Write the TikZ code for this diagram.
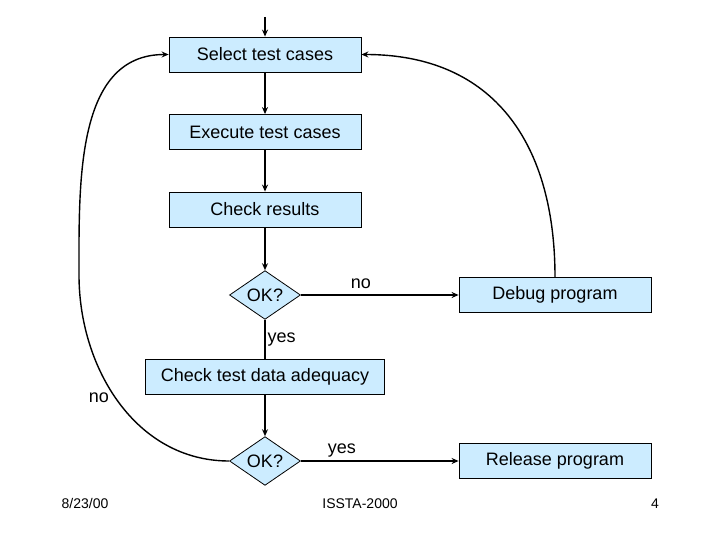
\documentclass[tikz,border=0pt]{standalone}
\usepackage{fontspec}
\setmainfont{Liberation Sans}
\usetikzlibrary{shapes.geometric,arrows.meta}
\definecolor{boxblue}{RGB}{204,236,255}
\newcommand{\bigtxt}{\fontsize{18}{22}\selectfont}
\newcommand{\smalltxt}{\fontsize{14}{17}\selectfont}
\begin{document}
\begin{tikzpicture}[
  x=1pt, y=-1pt,
  block/.style={rectangle, draw, fill=boxblue, line width=0.8pt, minimum width=192pt, minimum height=35pt, inner sep=0pt, font=\bigtxt},
  test/.style={diamond, draw, fill=boxblue, line width=0.8pt, minimum width=71pt, minimum height=47pt, inner sep=0pt, font=\bigtxt},
  flow/.style={line width=1.4pt, -{Stealth[length=7pt,width=6pt]}},
  footer/.style={anchor=base, font=\smalltxt},
  node distance=77.5pt,
  font=\bigtxt
]
\useasboundingbox (0,0) rectangle (720,540);

% Main loop
\node[block] (select) at (265,54.5) {Select test cases};
\node[block, below of=select] (execute) {Execute test cases};
\node[block, below of=execute] (check) {Check results};
\node[test, below of=check, node distance=85.5pt] (ok1) {OK?};
\node[block, right of=ok1, node distance=290pt] (debug) {Debug program};

% Adequacy
\node[block, below of=ok1, node distance=82pt, minimum width=239pt] (adequacy) {Check test data adequacy};
\node[test, below of=adequacy, node distance=84pt] (ok2) {OK?};
\node[block, right of=ok2, node distance=290pt] (release) {Release program};

% Footer
\node[footer] (date) at (85,508) {8/23/00};
\node[footer] (conf) at (360,508) {ISSTA-2000};
\node[footer] (page) at (655,508) {4};

% Connections
\coordinate (start) at (265,17);
\coordinate (bend) at (79,275);
\draw[flow] (start) -- (select);
\draw[flow] (select) -- (execute);
\draw[flow] (execute) -- (check);
\draw[flow] (check) -- (ok1);
\draw[flow] (ok1) -- (debug) node[above,pos=0.38,yshift=2pt] {no};
\draw[line width=1.4pt] (ok1) -- (adequacy) node[right,midway,inner sep=2pt] {yes};
\draw[flow] (adequacy) -- (ok2);
\draw[flow] (ok2) -- (release) node[above,pos=0.26] {yes};
\draw[flow] (debug.north) to[out=90,in=0,looseness=1.15] (select.east);
\draw[flow] (ok2.west) to[out=180,in=-90] (bend) to[out=90,in=180] (select.west);
\node (nolab) at (99,398) {no};
\end{tikzpicture}
\end{document}
